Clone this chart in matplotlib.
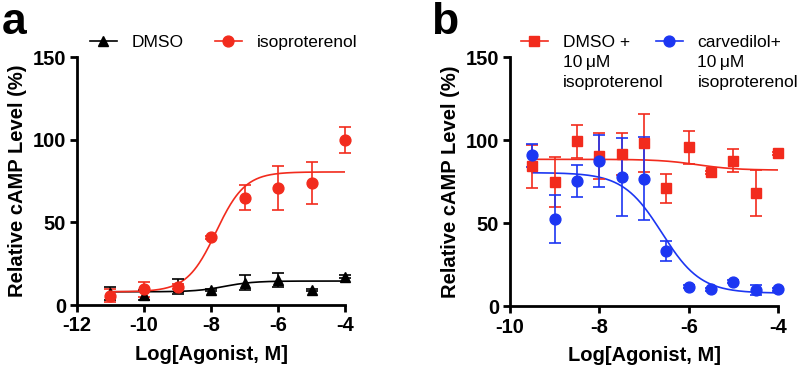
import numpy as np
import matplotlib
matplotlib.use("Agg")
import matplotlib.pyplot as plt

plt.rcParams['font.family'] = ['Liberation Sans', 'DejaVu Sans']

# ---- Panel a data ----
a_x = [-11, -10, -9, -8, -7, -6, -5, -4]
a_iso_y = [5.7, 9.5, 11.1, 41.0, 65.0, 70.7, 73.7, 99.7]
a_iso_err = [4.0, 4.5, 1.5, 1.0, 7.4, 13.4, 12.8, 7.7]
a_dmso_y = [7.0, 6.0, 11.0, 9.1, 13.5, 15.1, 9.1, 17.2]
a_dmso_err = [4.0, 3.0, 4.5, 0.8, 4.7, 4.5, 0.8, 0.8]
# fitted 4PL parameters: bottom, top, logEC50, hill
a_iso_fit = (8.0, 80.5, -7.85, 1.0)
a_dmso_fit = (8.0, 14.5, -7.6, 1.0)
a_labels = ['DMSO', 'isoproterenol']

# ---- Panel b data ----
b_x = [-9.5, -9, -8.5, -8, -7.5, -7, -6.5, -6, -5.5, -5, -4.5, -4]
b_dmso_y = [84.2, 74.6, 99.3, 90.6, 91.8, 98.3, 71.2, 95.8, 80.6, 87.6, 68.2, 92.0]
b_dmso_err = [12.7, 15.0, 10.0, 14.0, 12.5, 17.7, 8.7, 10.0, 1.0, 7.0, 14.0, 1.0]
b_carv_y = [91.0, 52.7, 75.2, 87.6, 77.8, 76.8, 33.1, 12.0, 10.4, 15.0, 10.0, 10.4]
b_carv_err = [7.0, 14.3, 9.6, 15.5, 23.5, 25.0, 6.0, 1.0, 1.0, 1.0, 3.0, 1.0]
b_dmso_fit = (82.0, 88.5, -5.8, -1.0)
b_carv_fit = (8.0, 80.5, -6.6, -1.0)
b_labels = [['DMSO +', '10\u2009\u03bcM', 'isoproterenol'],
            ['carvedilol+', '10\u2009\u03bcM', 'isoproterenol']]

RED = '#F22B1D'
BLUE = '#1C36F2'
BLACK = '#000000'
FS_TICK = 14.5
FS_LEG = 12.5


def four_pl(x, p):
    bottom, top, logec, hill = p
    return bottom + (top - bottom) / (1 + 10 ** ((logec - x) * hill))


fig = plt.figure(figsize=(7.97, 3.69), dpi=100)
ax_a = fig.add_axes([0.0966, 0.1734, 0.3363, 0.672])
ax_b = fig.add_axes([0.6399, 0.1694, 0.3363, 0.676])


def style(ax, xlim, xticks):
    ax.set_xlim(*xlim)
    ax.set_ylim(0, 150)
    ax.set_xticks(xticks)
    ax.set_xticklabels([str(t) for t in xticks])
    ax.set_yticks([0, 50, 100, 150])
    for s in ['top', 'right']:
        ax.spines[s].set_visible(False)
    for s in ['left', 'bottom']:
        ax.spines[s].set_linewidth(2.0)
    ax.tick_params(direction='out', length=5, width=2.0, labelsize=FS_TICK, pad=3)
    for lab in ax.get_xticklabels() + ax.get_yticklabels():
        lab.set_fontweight('bold')
    ax.set_ylabel('Relative cAMP Level (%)', fontsize=FS_TICK, fontweight='bold', labelpad=4)
    ax.set_xlabel('Log[Agonist, M]', fontsize=FS_TICK, fontweight='bold', labelpad=7)


def series(ax, x, y, err, fit, color, marker, ms, xr):
    xs = np.linspace(xr[0], xr[1], 300)
    ax.plot(xs, four_pl(xs, fit), color=color, lw=1.2, zorder=2)
    ax.errorbar(x, y, yerr=err, fmt='none', ecolor=color, elinewidth=1.2,
                capsize=4.5, capthick=1.2, zorder=3, clip_on=False)
    ax.plot(x, y, linestyle='none', marker=marker, ms=ms, color=color,
            zorder=4, clip_on=False)
    h, = ax.plot([], [], color=color, lw=1.2, marker=marker, ms=ms)
    return h


style(ax_a, (-12, -4), [-12, -10, -8, -6, -4])
h1 = series(ax_a, a_x, a_dmso_y, a_dmso_err, a_dmso_fit, BLACK, '^', 6.5, (-11, -4))
h2 = series(ax_a, a_x, a_iso_y, a_iso_err, a_iso_fit, RED, 'o', 7.8, (-11, -4))
ax_a.legend([h1, h2], a_labels, ncol=2, frameon=False,
            fontsize=FS_LEG, loc='center left', bbox_to_anchor=(0.048, 1.06),
            handlelength=1.55, columnspacing=1.8, handletextpad=0.85,
            borderaxespad=0.0, borderpad=0.0)

style(ax_b, (-10, -4), [-10, -8, -6, -4])
h3 = series(ax_b, b_x, b_dmso_y, b_dmso_err, b_dmso_fit, RED, 's', 6.8, (-9.5, -4))
h4 = series(ax_b, b_x, b_carv_y, b_carv_err, b_carv_fit, BLUE, 'o', 7.8, (-9.5, -4))
leg_b = ax_b.legend([h3, h4], [lab[0] for lab in b_labels],
                    ncol=2, frameon=False, fontsize=FS_LEG, loc='center left',
                    bbox_to_anchor=(0.041, 1.06), handlelength=1.55,
                    columnspacing=1.5, handletextpad=0.85,
                    borderaxespad=0.0, borderpad=0.0)

fig.canvas.draw()
W, H = fig.get_size_inches() * fig.dpi
for txt, lab in zip(leg_b.get_texts(), b_labels):
    bb = txt.get_window_extent()
    x0 = bb.x0 / W
    yc = (bb.y0 + bb.y1) / 2
    for i, line in enumerate(lab[1:], start=1):
        fig.text(x0, (yc - 20 * i) / H, line, fontsize=FS_LEG,
                 ha='left', va='center_baseline' if False else 'center')

fig.text(0.002, 0.995, 'a', fontsize=32, fontweight='bold', va='top', ha='left')
fig.text(0.541, 0.995, 'b', fontsize=32, fontweight='bold', va='top', ha='left')

fig.savefig('out.png', dpi=100)
